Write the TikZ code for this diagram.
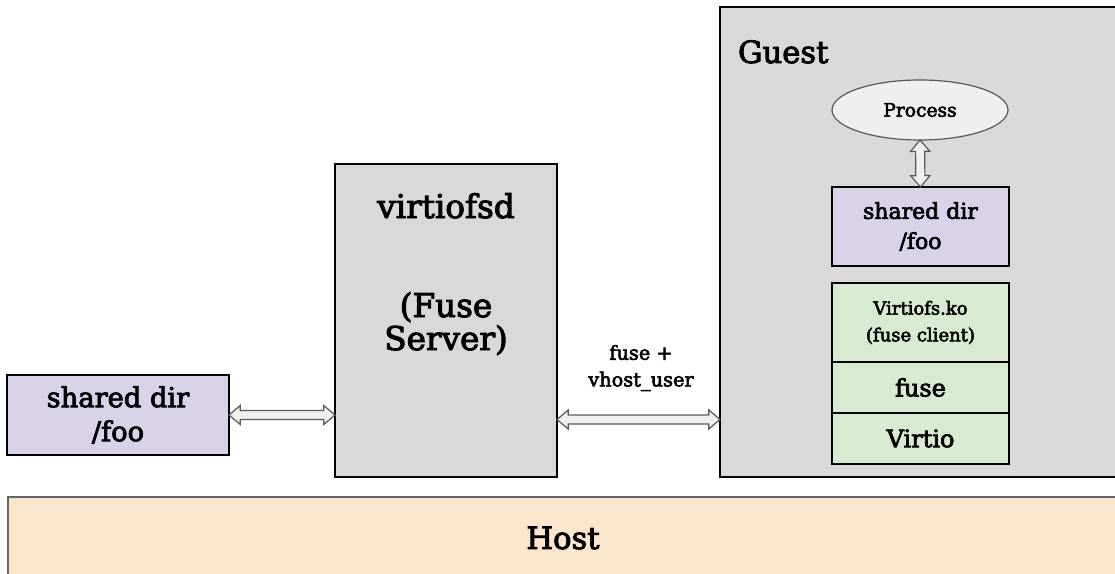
\documentclass[tikz,border=0pt]{standalone}
\usepackage{fontspec}
\setmainfont{DejaVu Serif}[BoldFont=DejaVu Serif, BoldFeatures={FakeBold=3}]
\usetikzlibrary{calc,shapes.geometric}
\definecolor{dirfill}{HTML}{D9D2E9}
\definecolor{procbox}{HTML}{D9D9D9}
\definecolor{layerfill}{HTML}{D9EAD3}
\definecolor{hostfill}{HTML}{FCE5CD}
\definecolor{hostline}{HTML}{666666}
\definecolor{lightfill}{HTML}{EFEFEF}
\definecolor{softline}{HTML}{595959}
\tikzset{
  blk/.style={draw=black, line width=1pt, inner sep=0pt, outer sep=0pt, align=center},
  dirbox/.style={blk, fill=dirfill},
  layer/.style={blk, fill=layerfill, minimum width=132.75pt},
  txt/.style={inner sep=0pt, outer sep=0pt, align=center},
  fat/.style={draw=softline, fill=lightfill, line width=0.9pt, line join=miter,
    to path={let \p1=(\tikztostart), \p2=(\tikztotarget),
      \n1={atan2(\y2-\y1,\x2-\x1)}, \n2={veclen(\x2-\x1,\y2-\y1)} in
      {[shift={(\p1)}, rotate=\n1]
        (0pt,0pt) -- (8.5pt,7.2pt) -- (8.5pt,3.4pt) -- ({(\n2-8.5)*1pt},3.4pt)
        -- ({(\n2-8.5)*1pt},7.2pt) -- ({\n2*1pt},0pt) -- ({(\n2-8.5)*1pt},-7.2pt)
        -- ({(\n2-8.5)*1pt},-3.4pt) -- (8.5pt,-3.4pt) -- (8.5pt,-7.2pt) -- cycle}}}
}
\begin{document}
\begin{tikzpicture}[x=0.75pt, y=-0.75pt]
\bfseries
\useasboundingbox (0,0) rectangle (1115,574);
\clip (0,0) rectangle (1115,574);

% host layer along the bottom
\node[blk, draw=hostline, fill=hostfill, minimum width=832.5pt, minimum height=61.5pt] (host) at (563,538) {};
\node[txt, font=\fontsize{23}{28}\selectfont] (hostlbl) at (563,538) {Host};

% guest machine
\node[blk, fill=procbox, minimum width=307.5pt, minimum height=352.5pt] (g) at (925,242) {};
\node[txt, anchor=base west, font=\fontsize{23}{28}\selectfont] (glbl) at (738,63) {Guest};

% virtiofsd daemon
\node[blk, fill=procbox, minimum width=166.5pt, minimum height=234.75pt] (v) at (446,320.5) {};
\node[txt, anchor=base, font=\fontsize{24.5}{24.75}\selectfont] (vlbl) at (446,350)
  {virtiofsd\\[49.5pt](Fuse\\Server)};

% shared directory on the host side
\node[dirbox, minimum width=166.5pt, minimum height=60pt, font=\fontsize{20.5}{25.5}\selectfont] (l) at (118,415)
  {shared dir\\/foo};

% guest contents
\node[ellipse, draw=softline, line width=0.9pt, fill=lightfill, inner sep=0pt, outer sep=0pt,
  minimum width=132pt, minimum height=45pt, font=\fontsize{14}{17}\selectfont] (proc) at (920,110) {Process};
\node[dirbox, minimum width=132.75pt, minimum height=59.25pt, font=\fontsize{16.5}{22.5}\selectfont] (gdir) at (920.5,226.5)
  {shared dir\\/foo};
\node[layer, minimum height=59.25pt, font=\fontsize{13.5}{20}\selectfont] (vfs) at (920.5,322.5)
  {Virtiofs.ko\\(fuse client)};
\node[layer, minimum height=38.25pt, font=\fontsize{18}{20}\selectfont] (fuse) at (920.5,387.5) {fuse};
\node[layer, minimum height=38.25pt, font=\fontsize{18}{20}\selectfont] (virtio) at (920.5,438.5) {Virtio};

% channel label
\node[txt, font=\fontsize{14.5}{20}\selectfont] (chan) at (641,368) {fuse +\\vhost\_user};

% connectors
\draw[fat] (l.east) to (l.east -| v.west);
\draw[fat] ([yshift=-74.25pt]v.east) to ([yshift=-133.125pt]g.west);
\draw[fat] (proc.south) to (gdir.north);
\end{tikzpicture}
\end{document}
